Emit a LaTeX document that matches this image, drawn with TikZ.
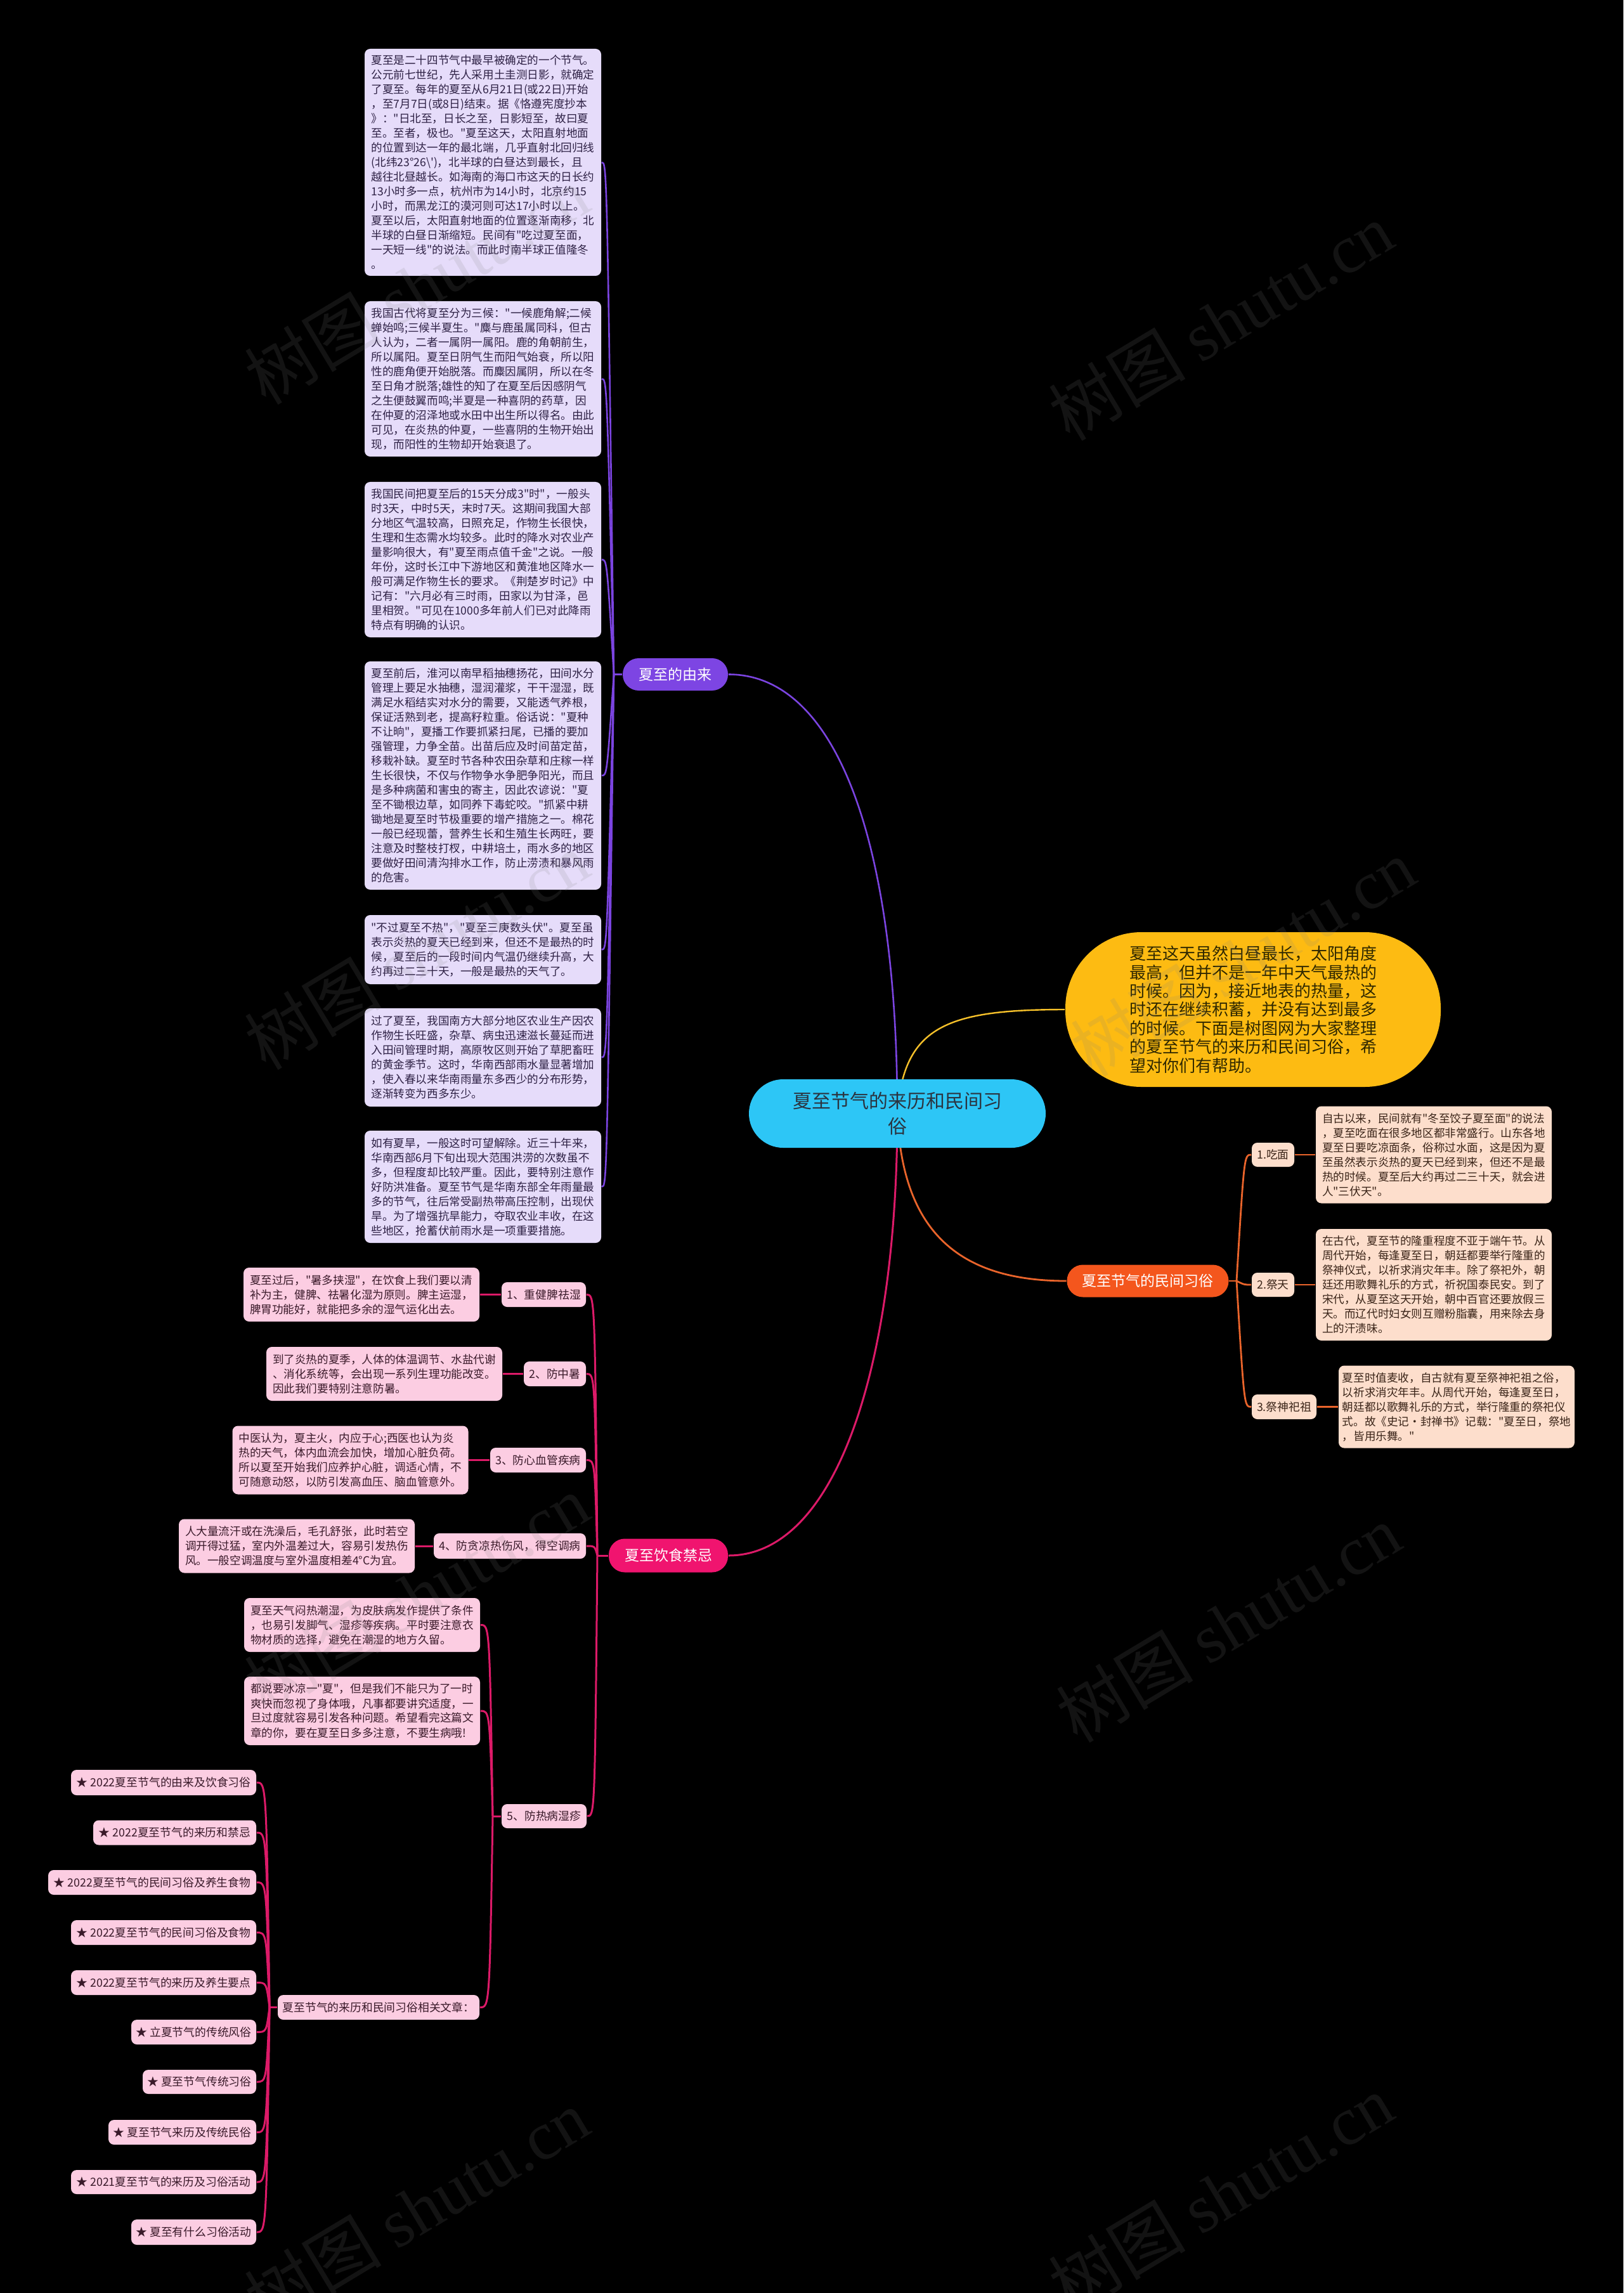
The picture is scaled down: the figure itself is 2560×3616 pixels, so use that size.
\documentclass[tikz,border=0pt]{standalone}
\usepackage{fontspec}
\setmainfont{Noto Sans CJK SC}
\newfontfamily\zh{Noto Sans CJK SC}
\newfontfamily\wmlatin{Liberation Serif}
\usetikzlibrary{backgrounds}
\definecolor{purp}{HTML}{7D45E3}
\definecolor{purpline}{HTML}{7B44E0}
\definecolor{lavbox}{HTML}{E6DCFA}
\definecolor{lavtxt}{HTML}{2E2145}
\definecolor{pinkpill}{HTML}{F0146F}
\definecolor{pinkline}{HTML}{DC1A68}
\definecolor{pinkbox}{HTML}{FCCDE2}
\definecolor{pinktxt}{HTML}{3A1A2A}
\definecolor{orpill}{HTML}{F4561D}
\definecolor{orline}{HTML}{E9642B}
\definecolor{peachbox}{HTML}{FDDECC}
\definecolor{peachtxt}{HTML}{3A2418}
\definecolor{yel}{HTML}{FDBB12}
\definecolor{yeltxt}{HTML}{2F2800}
\definecolor{yelline}{HTML}{F5C02A}
\definecolor{cya}{HTML}{2DC6F6}
\definecolor{cyatxt}{HTML}{2B3440}
\begin{document}
\begin{tikzpicture}[x=0.25pt,y=-0.25pt,
  sz/.style 2 args={minimum width=#1*0.25pt,minimum height=#2*0.25pt},
  txtbox/.style={inner sep=0pt,rounded corners=2.2pt,align=left,font=\zh\fontsize{4.4pt}{5.75pt}\selectfont},
  lav/.style={txtbox,fill=lavbox,text=lavtxt},
  pk/.style={txtbox,fill=pinkbox,text=pinktxt},
  pe/.style={txtbox,fill=peachbox,text=peachtxt},
  sublab/.style={inner sep=0pt,rounded corners=2.2pt,align=center,font=\zh\fontsize{4.45pt}{5.5pt}\selectfont},
  pklab/.style={sublab,fill=pinkbox,text=pinktxt},
  pelab/.style={sublab,fill=peachbox,text=peachtxt},
  mainlab/.style={inner sep=0pt,rounded corners=6.3pt,text=white,font=\zh\fontsize{5.75pt}{6pt}\selectfont},
  pl/.style={draw=purpline,line width=0.65pt},
  pkl/.style={draw=pinkline,line width=0.75pt},
  orl/.style={draw=orline,line width=0.7pt},
  yl/.style={draw=yelline,line width=0.6pt},
  wm/.style={rotate=31,text=gray,text opacity=0.15,font=\zh\fontsize{27pt}{27pt}\selectfont}
]
\useasboundingbox (0,0) rectangle (2560,3616);
\begin{scope}[on background layer]
\fill[black] (0,0) rectangle (2560,3616);
\end{scope}

% ---- center and main branches ----
\node[inner sep=0pt,rounded corners=13.5pt,fill=cya,text=cyatxt,align=center,font=\zh\fontsize{7.5pt}{10pt}\selectfont,sz={468}{108}] (c) at (1415,1756) {夏至节气的来历和民间习\\俗};

\node[inner sep=0pt,rounded corners=30pt,fill=yel,text=yeltxt,align=left,font=\zh\fontsize{6.5pt}{7.35pt}\selectfont,sz={592}{244}] (y) at (1976,1592) {夏至这天虽然白昼最长，太阳角度\\最高，但并不是一年中天气最热的\\时候。因为，接近地表的热量，这\\时还在继续积蓄，并没有达到最多\\的时候。下面是树图网为大家整理\\的夏至节气的来历和民间习俗，希\\望对你们有帮助。};

\node[mainlab,fill=purp,sz={166}{51}] (b1) at (1065,1063.5) {夏至的由来};
\node[mainlab,fill=pinkpill,sz={188}{53}] (b3) at (1054,2453) {夏至饮食禁忌};
\node[mainlab,fill=orpill,sz={255}{51}] (o) at (1810,2020) {夏至节气的民间习俗};

% ---- purple boxes ----
\node[lav,sz={373}{358}] (l1) at (761.5,256) {夏至是二十四节气中最早被确定的一个节气。\\公元前七世纪，先人采用土圭测日影，就确定\\了夏至。每年的夏至从6月21日(或22日)开始\\，至7月7日(或8日)结束。据《恪遵宪度抄本\\》："日北至，日长之至，日影短至，故曰夏\\至。至者，极也。"夏至这天，太阳直射地面\\的位置到达一年的最北端，几乎直射北回归线\\(北纬23°26\textbackslash')，北半球的白昼达到最长，且\\越往北昼越长。如海南的海口市这天的日长约\\13小时多一点，杭州市为14小时，北京约15\\小时，而黑龙江的漠河则可达17小时以上。\\夏至以后，太阳直射地面的位置逐渐南移，北\\半球的白昼日渐缩短。民间有"吃过夏至面，\\一天短一线"的说法。而此时南半球正值隆冬\\。};
\node[lav,sz={373}{245}] (l2) at (761.5,597.5) {我国古代将夏至分为三候："一候鹿角解;二候\\蝉始鸣;三候半夏生。"麋与鹿虽属同科，但古\\人认为，二者一属阴一属阳。鹿的角朝前生，\\所以属阳。夏至日阴气生而阳气始衰，所以阳\\性的鹿角便开始脱落。而麋因属阴，所以在冬\\至日角才脱落;雄性的知了在夏至后因感阴气\\之生便鼓翼而鸣;半夏是一种喜阴的药草，因\\在仲夏的沼泽地或水田中出生所以得名。由此\\可见，在炎热的仲夏，一些喜阴的生物开始出\\现，而阳性的生物却开始衰退了。};
\node[lav,sz={373}{245}] (l3) at (761.5,882.5) {我国民间把夏至后的15天分成3"时"，一般头\\时3天，中时5天，末时7天。这期间我国大部\\分地区气温较高，日照充足，作物生长很快，\\生理和生态需水均较多。此时的降水对农业产\\量影响很大，有"夏至雨点值千金"之说。一般\\年份，这时长江中下游地区和黄淮地区降水一\\般可满足作物生长的要求。《荆楚岁时记》中\\记有："六月必有三时雨，田家以为甘泽，邑\\里相贺。"可见在1000多年前人们已对此降雨\\特点有明确的认识。};
\node[lav,sz={373}{360}] (l4) at (761.5,1223) {夏至前后，淮河以南早稻抽穗扬花，田间水分\\管理上要足水抽穗，湿润灌浆，干干湿湿，既\\满足水稻结实对水分的需要，又能透气养根，\\保证活熟到老，提高籽粒重。俗话说："夏种\\不让晌"，夏播工作要抓紧扫尾，已播的要加\\强管理，力争全苗。出苗后应及时间苗定苗，\\移栽补缺。夏至时节各种农田杂草和庄稼一样\\生长很快，不仅与作物争水争肥争阳光，而且\\是多种病菌和害虫的寄主，因此农谚说："夏\\至不锄根边草，如同养下毒蛇咬。"抓紧中耕\\锄地是夏至时节极重要的增产措施之一。棉花\\一般已经现蕾，营养生长和生殖生长两旺，要\\注意及时整枝打杈，中耕培土，雨水多的地区\\要做好田间清沟排水工作，防止涝渍和暴风雨\\的危害。};
\node[lav,sz={373}{109}] (l5) at (761.5,1497.5) {"不过夏至不热"，"夏至三庚数头伏"。夏至虽\\表示炎热的夏天已经到来，但还不是最热的时\\候，夏至后的一段时间内气温仍继续升高，大\\约再过二三十天，一般是最热的天气了。};
\node[lav,sz={373}{155}] (l6) at (761.5,1667.5) {过了夏至，我国南方大部分地区农业生产因农\\作物生长旺盛，杂草、病虫迅速滋长蔓延而进\\入田间管理时期，高原牧区则开始了草肥畜旺\\的黄金季节。这时，华南西部雨水量显著增加\\，使入春以来华南雨量东多西少的分布形势，\\逐渐转变为西多东少。};
\node[lav,sz={373}{177}] (l7) at (761.5,1871.5) {如有夏旱，一般这时可望解除。近三十年来，\\华南西部6月下旬出现大范围洪涝的次数虽不\\多，但程度却比较严重。因此，要特别注意作\\好防洪准备。夏至节气是华南东部全年雨量最\\多的节气，往后常受副热带高压控制，出现伏\\旱。为了增强抗旱能力，夺取农业丰收，在这\\些地区，抢蓄伏前雨水是一项重要措施。};

% ---- orange children ----
\node[pelab,sz={67}{38}] (o1) at (2007.5,1821) {1.吃面};
\node[pelab,sz={67}{38}] (o2) at (2007.5,2026) {2.祭天};
\node[pelab,sz={102}{39}] (o3) at (2025,2218.5) {3.祭神祀祖};
\node[pe,sz={372}{153}] (ot1) at (2261,1821) {自古以来，民间就有"冬至饺子夏至面"的说法\\，夏至吃面在很多地区都非常盛行。山东各地\\夏至日要吃凉面条，俗称过水面，这是因为夏\\至虽然表示炎热的夏天已经到来，但还不是最\\热的时候。夏至后大约再过二三十天，就会进\\人"三伏天"。};
\node[pe,sz={372}{176}] (ot2) at (2261,2026) {在古代，夏至节的隆重程度不亚于端午节。从\\周代开始，每逢夏至日，朝廷都要举行隆重的\\祭神仪式，以祈求消灾年丰。除了祭祀外，朝\\廷还用歌舞礼乐的方式，祈祝国泰民安。到了\\宋代，从夏至这天开始，朝中百官还要放假三\\天。而辽代时妇女则互赠粉脂囊，用来除去身\\上的汗渍味。};
\node[pe,sz={372}{130}] (ot3) at (2297,2218.5) {夏至时值麦收，自古就有夏至祭神祀祖之俗，\\以祈求消灾年丰。从周代开始，每逢夏至日，\\朝廷都以歌舞礼乐的方式，举行隆重的祭祀仪\\式。故《史记·封禅书》记载："夏至日，祭地\\，皆用乐舞。"};

% ---- pink children ----
\node[pklab,sz={133}{39}] (p1) at (857.5,2041.5) {1、重健脾祛湿};
\node[pklab,sz={98}{39}] (p2) at (875,2166.5) {2、防中暑};
\node[pklab,sz={151}{39}] (p3) at (848.5,2302.5) {3、防心血管疾病};
\node[pklab,sz={240}{40}] (p4) at (804,2438) {4、防贪凉热伤风，得空调病};
\node[pklab,sz={134}{38}] (p5) at (858,2864) {5、防热病湿疹};

\node[pk,sz={372}{85}] (pt1) at (570,2041.5) {夏至过后，"暑多挟湿"，在饮食上我们要以清\\补为主，健脾、祛暑化湿为原则。脾主运湿，\\脾胃功能好，就能把多余的湿气运化出去。};
\node[pk,sz={372}{85}] (pt2) at (606,2166.5) {到了炎热的夏季，人体的体温调节、水盐代谢\\、消化系统等，会出现一系列生理功能改变。\\因此我们要特别注意防暑。};
\node[pk,sz={372}{108}] (pt3) at (552.5,2302.5) {中医认为，夏主火，内应于心;西医也认为炎\\热的天气，体内血流会加快，增加心脏负荷。\\所以夏至开始我们应养护心脏，调适心情，不\\可随意动怒，以防引发高血压、脑血管意外。};
\node[pk,sz={372}{85}] (pt4) at (468,2438) {人大量流汗或在洗澡后，毛孔舒张，此时若空\\调开得过猛，室内外温差过大，容易引发热伤\\风。一般空调温度与室外温度相差4°C为宜。};
\node[pk,sz={372}{85}] (pt5) at (571,2562.5) {夏至天气闷热潮湿，为皮肤病发作提供了条件\\，也易引发脚气、湿疹等疾病。平时要注意衣\\物材质的选择，避免在潮湿的地方久留。};
\node[pk,sz={372}{108}] (pt6) at (571,2698) {都说要冰凉一"夏"，但是我们不能只为了一时\\爽快而忽视了身体哦，凡事都要讲究适度，一\\旦过度就容易引发各种问题。希望看完这篇文\\章的你，要在夏至日多多注意，不要生病哦!};
\node[pklab,sz={318}{39}] (r) at (597,3165.5) {夏至节气的来历和民间习俗相关文章：};

% ---- list ----
\node[pklab,sz={292}{40}] (s1) at (258,2811) {★ 2022夏至节气的由来及饮食习俗};
\node[pklab,sz={257}{39}] (s2) at (275.5,2890) {★ 2022夏至节气的来历和禁忌};
\node[pklab,sz={328}{39}] (s3) at (240,2968.5) {★ 2022夏至节气的民间习俗及养生食物};
\node[pklab,sz={292}{39}] (s4) at (258,3047.5) {★ 2022夏至节气的民间习俗及食物};
\node[pklab,sz={292}{39}] (s5) at (258,3126.5) {★ 2022夏至节气的来历及养生要点};
\node[pklab,sz={197}{39}] (s6) at (305.5,3204.5) {★ 立夏节气的传统风俗};
\node[pklab,sz={179}{38}] (s7) at (314.5,3283) {★ 夏至节气传统习俗};
\node[pklab,sz={233}{39}] (s8) at (287.5,3362.5) {★ 夏至节气来历及传统民俗};
\node[pklab,sz={292}{38}] (s9) at (258,3441) {★ 2021夏至节气的来历及习俗活动};
\node[pklab,sz={197}{40}] (s10) at (305.5,3520) {★ 夏至有什么习俗活动};

% ---- junction coordinates ----
\coordinate (pj) at (968,1063.5);
\coordinate (kj) at (942,2453);
\coordinate (k5) at (777,2864);
\coordinate (rj) at (425,3165.5);
\coordinate (oj) at (1950,2020);

% ---- connectors ----
\begin{scope}[on background layer]
\draw[pl] (b1.east) .. controls (1320,1063.5) and (1415,1330) .. (c.center);
\draw[yl] (c.center) .. controls (1425,1620) and (1490,1592) .. (y.west);
\draw[orl] (c.center) .. controls (1422,1930) and (1500,2020) .. (o.west);
\draw[pkl] (c.center) .. controls (1415,2150) and (1320,2453) .. (b3.east);

\draw[pl] (b1.west) -- (pj);
\foreach \n/\yy in {l1/256,l2/597.5,l3/882.5,l4/1223,l5/1497.5,l6/1667.5,l7/1871.5}
  \draw[pl] (pj) .. controls (957,\yy) .. (\n.east);

\draw[orl] (o.east) -- (oj);
\foreach \n/\yy in {o1/1821,o2/2026,o3/2218.5}
  \draw[orl] (oj) .. controls (1962,\yy) .. (\n.west);
\draw[orl] (o1.east) -- (ot1.west);
\draw[orl] (o2.east) -- (ot2.west);
\draw[orl] (o3.east) -- (ot3.west);

\draw[pkl] (b3.west) -- (kj);
\foreach \n/\yy in {p1/2041.5,p2/2166.5,p3/2302.5,p4/2438,p5/2864}
  \draw[pkl] (kj) .. controls (938,\yy) .. (\n.east);
\draw[pkl] (pt1.east) -- (p1.west);
\draw[pkl] (pt2.east) -- (p2.west);
\draw[pkl] (pt3.east) -- (p3.west);
\draw[pkl] (pt4.east) -- (p4.west);

\draw[pkl] (p5.west) -- (k5);
\foreach \n/\yy in {pt5/2562.5,pt6/2698,r/3165.5}
  \draw[pkl] (k5) .. controls (772,\yy) .. (\n.east);

\draw[pkl] (r.west) -- (rj);
\foreach \n/\yy in {s1/2811,s2/2890,s3/2968.5,s4/3047.5,s5/3126.5,s6/3204.5,s7/3283,s8/3362.5,s9/3441,s10/3520}
  \draw[pkl] (rj) .. controls (420,\yy) .. (\n.east);
\end{scope}

% ---- watermarks ----
\node[wm] (w1) at (657,450) {树图 {\wmlatin shutu.cn}};
\node[wm] (w2) at (1925,507) {树图 {\wmlatin shutu.cn}};
\node[wm] (w3) at (657,1499) {树图 {\wmlatin shutu.cn}};
\node[wm] (w4) at (1960,1510) {树图 {\wmlatin shutu.cn}};
\node[wm] (w5) at (657,2513) {树图 {\wmlatin shutu.cn}};
\node[wm] (w6) at (1937,2560) {树图 {\wmlatin shutu.cn}};
\node[wm] (w7) at (657,3482) {树图 {\wmlatin shutu.cn}};
\node[wm] (w8) at (1925,3459) {树图 {\wmlatin shutu.cn}};
\end{tikzpicture}
\end{document}
